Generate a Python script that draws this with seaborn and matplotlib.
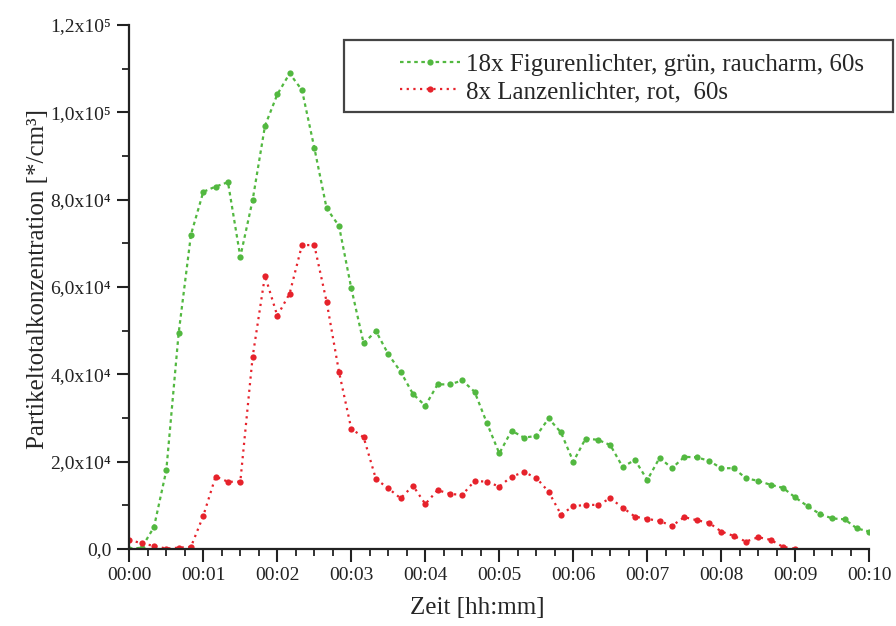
import numpy as np
import pandas as pd
import matplotlib
matplotlib.use("Agg")
import matplotlib.pyplot as plt
from matplotlib.patches import Rectangle
from matplotlib.ticker import MultipleLocator, FuncFormatter
import seaborn as sns

# Messwerte alle 10 s (Partikel pro cm³)
green_label = "18x Figurenlichter, grün, raucharm, 60s"
green_values = [0, 300, 5000, 18000, 49400, 72000, 81800, 83000, 84000, 66900,
                79900, 96900, 104100, 108900, 105100, 91900, 78000, 74000, 59700, 47100,
                49900, 44600, 40600, 35500, 32800, 37700, 37700, 38600, 36000, 28800,
                21900, 27100, 25500, 25900, 29900, 26700, 20000, 25300, 25000, 23800,
                18800, 20400, 15800, 20900, 18500, 21100, 21000, 20200, 18500, 18500,
                16200, 15600, 14700, 14000, 11800, 9800, 8000, 7000, 6800, 4700,
                4000]

red_label = "8x Lanzenlichter, rot,  60s"
red_values = [2100, 1300, 700, 100, 300, 500, 7600, 16600, 15400, 15400,
              44000, 62600, 53400, 58500, 69600, 69600, 56600, 40600, 27500, 25600,
              16000, 13900, 11600, 14500, 10300, 13500, 12600, 12400, 15600, 15400,
              14300, 16600, 17600, 16300, 13100, 7900, 9800, 10100, 10100, 11600,
              9500, 7400, 6900, 6400, 5300, 7300, 6600, 6000, 4000, 3000,
              1700, 2700, 2100, 500, 0]

sample_step_s = 10
x_ticks = ["00:00", "00:01", "00:02", "00:03", "00:04", "00:05",
           "00:06", "00:07", "00:08", "00:09", "00:10"]

green_color = "#52b840"
red_color = "#e6222b"

SUPERSCRIPT = {"4": "\u2074", "5": "\u2075", "3": "\u00b3", "6": "\u2076"}


def make_frame(values, label):
    minutes = np.arange(len(values)) * sample_step_s / 60.0
    return pd.DataFrame({"Zeit": minutes, "Konz": values, "Serie": label})


def sci_label(v, pos):
    if v <= 1e-9:
        return "0,0" if abs(v) < 1e-9 else ""
    e = int(np.floor(np.log10(v)))
    m = ("%.1f" % (v / 10 ** e)).replace(".", ",")
    return "%sx10%s" % (m, SUPERSCRIPT.get(str(e), str(e)))


def plot_chart():
    sns.set_style("ticks")
    plt.rcParams["font.family"] = ["Liberation Serif", "DejaVu Serif"]

    fig = plt.figure(figsize=(8.96, 6.26), dpi=100)
    ax = fig.add_axes([129.3 / 896, 77 / 626, 740 / 896, 524 / 626])

    df_green = make_frame(green_values, green_label)
    df_red = make_frame(red_values, red_label)

    sns.lineplot(data=df_green, x="Zeit", y="Konz", ax=ax, color=green_color,
                 linestyle=(0, (1.6, 1.6)), linewidth=1.6, marker="o",
                 markersize=4.5, markeredgewidth=0, label=green_label)
    sns.lineplot(data=df_red, x="Zeit", y="Konz", ax=ax, color=red_color,
                 linestyle=(0, (1.0, 2.0)), linewidth=1.6, marker="o",
                 markersize=4.5, markeredgewidth=0, label=red_label)

    ax.set_xlim(0, 10)
    ax.set_ylim(0, 120000)
    ax.xaxis.set_minor_locator(MultipleLocator(0.25))
    ax.set_xticks(range(len(x_ticks)))
    ax.set_xticklabels(x_ticks)
    ax.yaxis.set_major_locator(MultipleLocator(20000))
    ax.yaxis.set_minor_locator(MultipleLocator(10000))
    ax.yaxis.set_major_formatter(FuncFormatter(sci_label))

    ax.tick_params(axis="both", which="major", direction="out", length=9,
                   width=1.5, labelsize=14, pad=4, colors="#222222")
    ax.tick_params(axis="both", which="minor", direction="out", length=5,
                   width=1.3, colors="#222222")
    sns.despine(ax=ax)
    for side in ["left", "bottom"]:
        ax.spines[side].set_linewidth(1.6)
        ax.spines[side].set_color("#222222")

    ax.set_xlabel("Zeit [hh:mm]", fontsize=18)
    ax.set_ylabel("Partikeltotalkonzentration [*/cm³]", fontsize=18)
    ax.xaxis.set_label_coords(0.47, -0.092)
    ax.yaxis.set_label_coords(-0.108, 0.515)

    ax.legend(loc="upper left", bbox_to_anchor=(400 / 896, 1 - 53 / 626),
              bbox_transform=fig.transFigure, frameon=False, fontsize=18,
              handlelength=2.4, handletextpad=0.25, borderpad=0,
              labelspacing=0.2, borderaxespad=0)
    fig.patches.append(Rectangle((344 / 896, 1 - 112 / 626), 549 / 896, 72 / 626,
                                 transform=fig.transFigure, fill=False,
                                 edgecolor="#444444", linewidth=1.6))

    fig.savefig("out.png", dpi=100)


if __name__ == "__main__":
    plot_chart()
